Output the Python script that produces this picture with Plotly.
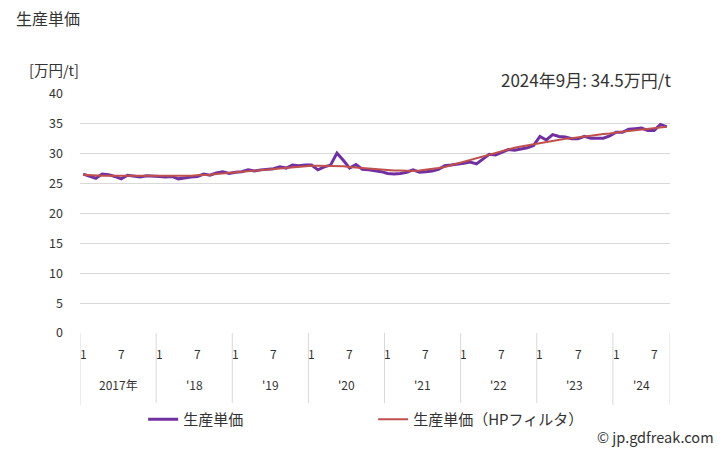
import plotly.graph_objects as go

years = [2017, 2018, 2019, 2020, 2021, 2022, 2023, 2024]
year_labels = ["2017年", "'18", "'19", "'20", "'21", "'22", "'23", "'24"]
month_tick_labels = ["1", "7"]

price = [
    26.6, 26.2, 25.9, 26.6, 26.5, 26.2, 25.8, 26.4, 26.3, 26.1, 26.3, 26.3,
    26.2, 26.1, 26.2, 25.8, 26.0, 26.1, 26.2, 26.6, 26.4, 26.8, 27.0, 26.7,
    26.9, 27.0, 27.3, 27.1, 27.3, 27.4, 27.5, 27.8, 27.6, 28.1, 28.0, 28.1,
    28.1, 27.3, 27.8, 28.1, 30.1, 28.9, 27.6, 28.2, 27.4, 27.3, 27.2, 27.0,
    26.7, 26.6, 26.7, 26.9, 27.3, 26.9, 27.0, 27.1, 27.4, 28.0, 28.1, 28.2,
    28.4, 28.6, 28.3, 29.1, 29.9, 29.8, 30.3, 30.7, 30.6, 30.8, 31.0, 31.4,
    32.9, 32.3, 33.2, 32.9, 32.8, 32.5, 32.5, 32.9, 32.6, 32.6, 32.6, 33.0,
    33.6, 33.6, 34.1, 34.2, 34.3, 33.9, 33.9, 34.9, 34.5,
]
price_hp = [
    26.5, 26.4, 26.4, 26.3, 26.3, 26.3, 26.2, 26.2, 26.2, 26.2, 26.2, 26.2,
    26.2, 26.2, 26.2, 26.2, 26.3, 26.3, 26.4, 26.4, 26.5, 26.6, 26.7, 26.8,
    26.9, 27.0, 27.1, 27.2, 27.3, 27.4, 27.5, 27.6, 27.7, 27.8, 27.9, 27.9,
    28.0, 28.0, 28.0, 28.0, 27.9, 27.9, 27.8, 27.7, 27.6, 27.5, 27.4, 27.3,
    27.3, 27.2, 27.2, 27.1, 27.1, 27.2, 27.3, 27.4, 27.6, 27.8, 28.1, 28.3,
    28.6, 28.9, 29.2, 29.5, 29.8, 30.1, 30.4, 30.7, 31.0, 31.2, 31.4, 31.6,
    31.8, 32.0, 32.2, 32.3, 32.5, 32.6, 32.8, 32.9, 33.0, 33.2, 33.3, 33.4,
    33.6, 33.7, 33.8, 33.9, 34.0, 34.1, 34.3, 34.4, 34.5,
]

FONT = "Noto Sans CJK JP"
TXT = "#333333"
idx = list(range(len(price)))
n = len(price)

W, H = 728, 450
l, r, t, b = 80, 58, 94, 117
pw, ph = W - l - r, H - t - b
def px(xp):
    return (xp - l) / pw
def py(yp):
    return (H - b - yp) / ph

fig = go.Figure()
fig.add_trace(go.Scatter(x=idx, y=price, mode="lines", name="生産単価",
                         line=dict(color="#7030A0", width=3)))
fig.add_trace(go.Scatter(x=idx, y=price_hp, mode="lines", name="生産単価（HPフィルタ）",
                         line=dict(color="#C0504D", width=2)))

annotations = []
shapes = []
for i, yl in enumerate(year_labels):
    start = i * 12
    for m in month_tick_labels:
        p = start + int(m) - 1
        if p < n:
            annotations.append(dict(x=p, y=py(353), xref="x", yref="paper", text=m,
                                    showarrow=False, font=dict(size=12, color=TXT, family=FONT),
                                    xanchor="center", yanchor="middle"))
    end = min(start + 12, n)
    annotations.append(dict(x=(start + end - 1) / 2, y=py(384), xref="x", yref="paper", text=yl,
                            showarrow=False, font=dict(size=12, color=TXT, family=FONT),
                            xanchor="center", yanchor="middle"))
    shapes.append(dict(type="line", xref="x", yref="paper", x0=start - 0.5, x1=start - 0.5,
                       y0=0, y1=py(405), line=dict(color="#D9D9D9", width=1)))
shapes.append(dict(type="line", xref="x", yref="paper", x0=n - 0.5, x1=n - 0.5,
                   y0=0, y1=py(405), line=dict(color="#D9D9D9", width=1)))

annotations += [
    dict(x=px(14), y=py(18), xref="paper", yref="paper", text="生産単価",
         showarrow=False, xanchor="left", yanchor="middle",
         font=dict(size=16, family=FONT, color=TXT)),
    dict(x=px(27), y=py(70), xref="paper", yref="paper", text="[万円/t]",
         showarrow=False, xanchor="left", yanchor="middle",
         font=dict(size=14.5, family=FONT, color=TXT)),
    dict(x=px(673), y=py(79), xref="paper", yref="paper", text="2024年9月: 34.5万円/t",
         showarrow=False, xanchor="right", yanchor="middle",
         font=dict(size=17, family=FONT, color=TXT)),
    dict(x=px(716), y=py(436), xref="paper", yref="paper", text="© jp.gdfreak.com",
         showarrow=False, xanchor="right", yanchor="middle",
         font=dict(size=14.5, family=FONT, color=TXT)),
]

fig.update_layout(
    width=W, height=H,
    margin=dict(l=l, r=r, t=t, b=b),
    paper_bgcolor="white", plot_bgcolor="white",
    font=dict(family=FONT, size=12, color=TXT),
    showlegend=True,
    legend=dict(orientation="h", x=0.107, y=-0.293, xanchor="left", yanchor="top",
                entrywidth=185, entrywidthmode="pixels",
                font=dict(size=15, family=FONT, color=TXT), itemwidth=30),
    xaxis=dict(range=[-0.5, n - 0.5], showticklabels=False, showgrid=False,
               zeroline=False, showline=False, ticks=""),
    yaxis=dict(range=[0, 40], dtick=5, showgrid=True, gridcolor="#D9D9D9", gridwidth=1,
               zeroline=False, showline=False, ticks="", ticklabelstandoff=16,
               tickfont=dict(size=12.5, family=FONT, color=TXT)),
    shapes=shapes,
    annotations=annotations,
)

fig.write_html("out.html")
